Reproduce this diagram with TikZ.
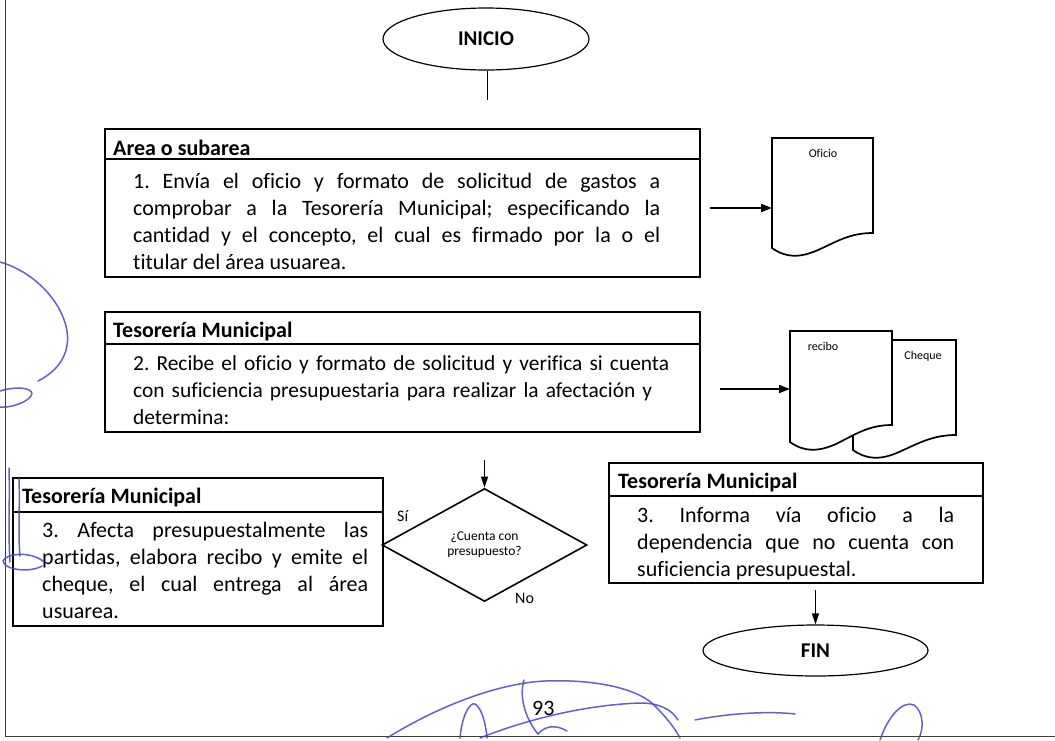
\documentclass[tikz,border=0pt]{standalone}
\usepackage{fontspec}
\setmainfont{Carlito}[Ligatures={TeX,NoCommon}]
\usetikzlibrary{shapes.geometric,arrows.meta,calc}
\hyphenpenalty=10000
\exhyphenpenalty=10000
\frenchspacing
\definecolor{inkblue}{RGB}{70,70,195}
\definecolor{pageline}{RGB}{60,60,60}
\begin{document}
\begin{tikzpicture}[x=1pt,y=-1pt,
  boxnode/.style={draw=black, line width=1.6pt, rectangle, inner sep=0pt, outer sep=0pt, anchor=north west},
  boxline/.style={draw=black, line width=1.6pt},
  headtext/.style={anchor=base west, inner sep=0pt, font=\fontsize{22}{27}\selectfont\bfseries},
  bodytext/.style={anchor=base west, inner sep=0pt, align=justify, font=\fontsize{22}{27.2}\selectfont},
  termnode/.style={ellipse, draw=black, line width=1.2pt, inner sep=0pt, font=\fontsize{21}{24}\selectfont\bfseries},
  docline/.style={draw=black, line width=1.7pt, fill=white},
  docanchor/.style={rectangle, inner sep=0pt, outer sep=0pt, anchor=north west},
  doclabel/.style={anchor=base, inner sep=0pt, font=\fontsize{12}{14}\selectfont},
  arr/.style={draw=black, line width=1.7pt, -{Triangle[length=11pt,width=8pt]}},
  varr/.style={draw=black, line width=1.2pt, -{Triangle[length=11pt,width=7pt]}},
  plainline/.style={draw=black, line width=1pt},
  smalllbl/.style={anchor=base west, inner sep=0pt, font=\fontsize{16}{18}\selectfont},
  ink/.style={draw=inkblue, line width=1.5pt, line cap=round, opacity=0.85}
]
\useasboundingbox (0,0) rectangle (1055,740);
\fill[white] (0,0) rectangle (1055,740);

% page frame
\draw[pageline, line width=0.9pt] (5,0) -- (5,736) -- (1055,736);

% ---------------- INICIO ----------------
\node[termnode, minimum width=206pt, minimum height=62pt] (inicio) at (486,39) {INICIO};
\coordinate (i0) at (487,100);
\draw[plainline] (inicio.south -| i0) -- (i0);

% ---------------- Box 1 ----------------
\node[boxnode, minimum width=595pt, minimum height=148pt] (b1) at (105,129) {};
\draw[boxline] (b1.west |- 0,159) -- (b1.east |- 0,159);
\node[headtext] (h1) at (113,155) {Area o subarea};
\node[bodytext, text width=527pt] (t1) at (133,188) {1. Envía el oficio y formato de solicitud de gastos a\linebreak comprobar a la Tesorería Municipal; especificando la\linebreak cantidad y el concepto, el cual es firmado por la o el\linebreak titular del área usuarea.};

% document Oficio
\node[docanchor, minimum width=101pt, minimum height=95pt] (oficio) at (772,138) {};
\begin{scope}[shift={(772,138)}]
\draw[docline] (0,0) -- (0,110) .. controls (14,120) and (28,120) .. (46,112) .. controls (66,103) and (78,95) .. (101,95) -- (101,0) -- cycle;
\end{scope}
\node[doclabel] (loficio) at (823,157) {Oficio};
\coordinate (a1) at (710,208);
\draw[arr] (a1) -- (a1 -| oficio.west);

% ---------------- Box 2 ----------------
\node[boxnode, minimum width=595pt, minimum height=120pt] (b2) at (105,312) {};
\draw[boxline] (b2.west |- 0,344) -- (b2.east |- 0,344);
\node[headtext] (h2) at (113,337) {Tesorería Municipal};
\node[bodytext, text width=580pt, align=left, font=\fontsize{21.4}{27.2}\selectfont] (t2) at (133,370) {2. Recibe el oficio y formato de solicitud y verifica si cuenta\\ con suficiencia presupuestaria para realizar la afectación y\\ determina:};

% documents Cheque (behind) and recibo
\node[docanchor, minimum width=103pt, minimum height=95pt] (cheque) at (853,340) {};
\begin{scope}[shift={(853,340)}]
\draw[docline] (0,0) -- (0,110) .. controls (14,120) and (28,120) .. (46,112) .. controls (66,103) and (80,95) .. (103,95) -- (103,0) -- cycle;
\end{scope}
\node[docanchor, minimum width=102pt, minimum height=94pt] (recibo) at (790,331) {};
\begin{scope}[shift={(790,331)}]
\draw[docline] (0,0) -- (0,111) .. controls (14,121) and (28,121) .. (46,113) .. controls (66,103) and (79,94) .. (102,94) -- (102,0) -- cycle;
\end{scope}
\node[doclabel] (lrecibo) at (823,350) {recibo};
\node[doclabel] (lcheque) at (923,359) {Cheque};
\coordinate (a2) at (720,389);
\draw[arr] (a2) -- (a2 -| recibo.west);

% ---------------- Decision ----------------
\node[diamond, draw=black, line width=1.6pt, minimum width=205pt, minimum height=113pt, inner sep=0pt, align=center, font=\fontsize{13.5}{15}\selectfont] (dec) at (484.5,545) {¿Cuenta con\\presupuesto?};
\coordinate (d0) at (484.5,460);
\draw[varr] (d0) -- (dec.north);
\node[smalllbl] (si) at (397,521) {Sí};
\node[smalllbl] (no) at (515,603) {No};

% ---------------- Box 3 left ----------------
\node[boxnode, minimum width=370pt, minimum height=148pt] (b3) at (13,478) {};
\draw[boxline] (b3.west |- 0,512) -- (b3.east |- 0,512);
\node[headtext] (h3) at (22,503) {Tesorería Municipal};
\node[bodytext, text width=326pt] (t3) at (42,537) {3. Afecta presupuestalmente las\linebreak partidas, elabora recibo y emite el\linebreak cheque, el cual entrega al área\linebreak usuarea.};

% ---------------- Box 3 right ----------------
\node[boxnode, minimum width=374pt, minimum height=120pt] (b4) at (609,463) {};
\draw[boxline] (b4.west |- 0,496) -- (b4.east |- 0,496);
\node[headtext] (h4) at (618,488) {Tesorería Municipal};
\node[bodytext, text width=317pt] (t4) at (637,522) {3. Informa vía oficio a la\linebreak dependencia que no cuenta con\linebreak suficiencia presupuestal.};

% ---------------- FIN ----------------
\node[termnode, minimum width=225pt, minimum height=51pt] (fin) at (815.5,650.5) {FIN};
\coordinate (f0) at (815.5,590);
\draw[varr] (f0) -- (fin.north);

% page number
\node[anchor=base west, inner sep=0pt, font=\fontsize{22}{26}\selectfont] (pnum) at (532,715) {93};

% ---------------- handwritten ink marks ----------------
\draw[ink] (0,262) .. controls (45,275) and (75,320) .. (66,350) .. controls (62,365) and (50,375) .. (38,381);
\draw[ink] (0,391) .. controls (20,385) and (36,389) .. (31,396) .. controls (25,404) and (8,408) .. (0,407);
\draw[ink] (9,468) .. controls (10,500) and (8,530) .. (10,562);
\draw[ink] (19,478) .. controls (20,505) and (18,535) .. (20,556);
\draw[ink] (44,562) .. controls (32,551) and (6,553) .. (3,561) .. controls (4,570) and (30,573) .. (42,566);
\draw[ink] (387,738) .. controls (440,705) and (500,683) .. (545,681) .. controls (600,679) and (640,690) .. (655,706) .. controls (665,716) and (675,728) .. (680,738);
\draw[ink] (480,738) .. controls (520,722) and (580,705) .. (640,703) .. controls (660,703) and (672,710) .. (678,720);
\draw[ink] (460,738) .. controls (462,715) and (470,702) .. (475,704) .. controls (482,708) and (486,725) .. (487,738);
\draw[ink] (524,680) .. controls (518,700) and (528,722) .. (538,734) .. controls (545,726) and (555,724) .. (567,731);
\draw[ink] (695,720) .. controls (730,713) and (770,711) .. (795,714);
\draw[ink] (880,740) .. controls (888,716) and (903,700) .. (914,705) .. controls (924,712) and (924,730) .. (918,740);
\end{tikzpicture}
\end{document}
